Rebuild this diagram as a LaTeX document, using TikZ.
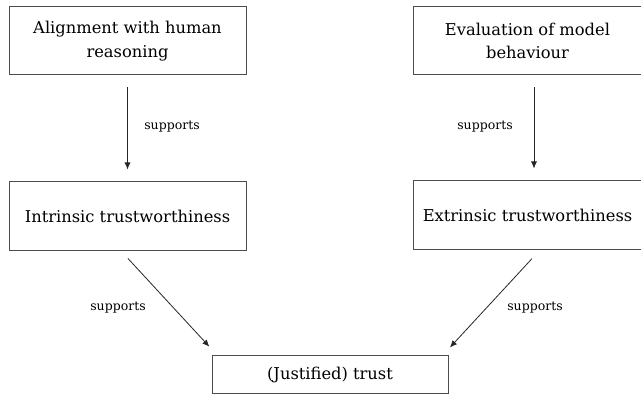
\documentclass[tikz,border=0pt]{standalone}
\usepackage{fontspec}
\setmainfont{DejaVu Serif}
\usetikzlibrary{arrows.meta}

\begin{document}
\begin{tikzpicture}[x=1pt,y=-1pt,
  box/.style = {rectangle,draw=black!70,line width=1pt,align=center,inner sep=0pt,
    font=\fontsize{16.3}{23.5}\selectfont},
  lbl/.style = {inner sep=0pt,font=\fontsize{12.5}{14}\selectfont},
  arr/.style = {-{Latex[length=7pt,width=6pt]},line width=.8pt,black!85},]

\useasboundingbox (0,0) rectangle (641,395);

\node[box,minimum width=237pt,minimum height=68pt] (align) at (127.5,41) {Alignment with human\\reasoning};
\node[box,minimum width=229pt,minimum height=68pt] (evaluation) at (527.5,41) {Evaluation of model\\behaviour};

\node[box,minimum width=237pt,minimum height=69pt] (intrinsic) at (127.5,216.5) {Intrinsic trustworthiness};
\node[box,minimum width=229pt,minimum height=69pt] (extrinsic) at (527.5,215.5) {Extrinsic trustworthiness};

\node[box,minimum width=236pt,minimum height=38pt] (trust) at (330,375) {(Justified) trust};

\draw[arr,shorten <=12pt,shorten >=12pt] (align.south) -- (intrinsic.north);
\draw[arr,shorten <=12pt,shorten >=12pt] ([xshift=6.5pt]evaluation.south) -- ([xshift=6.5pt]extrinsic.north);
\draw[arr,shorten <=9.5pt,shorten >=12pt] ([xshift=-6pt]intrinsic.south) -- ([xshift=6pt]trust.north west);
\draw[arr,shorten <=11pt,shorten >=11pt] ([xshift=12pt]extrinsic.south) -- ([xshift=-6pt]trust.north east);

\node[lbl] (sup1) at (172,127) {supports};
\node[lbl] (sup2) at (485,127) {supports};
\node[lbl] (sup3) at (118,308) {supports};
\node[lbl] (sup4) at (535,308) {supports};

\end{tikzpicture}
\end{document}
